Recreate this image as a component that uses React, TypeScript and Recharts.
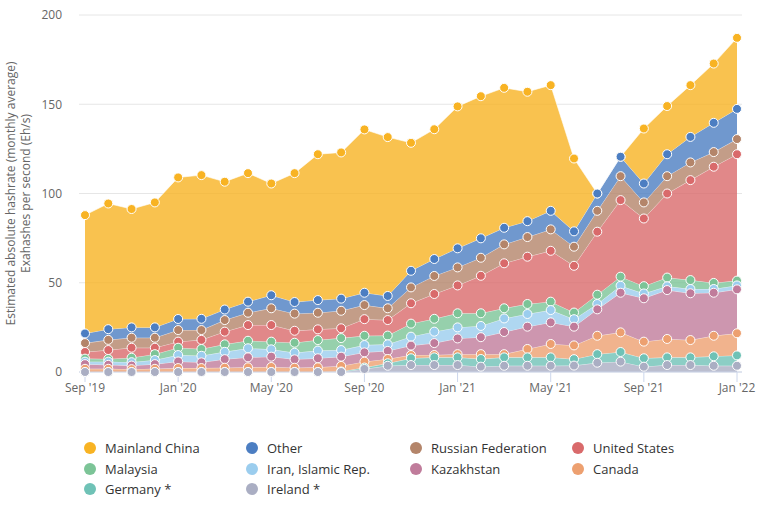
import React from 'react';
import { ComposedChart, Area, Line, XAxis, YAxis, CartesianGrid } from 'recharts';

// Monthly average hashrate by country, Eh/s
const months = [
  "Sep '19", "Oct '19", "Nov '19", "Dec '19", "Jan '20", "Feb '20", "Mar '20", "Apr '20",
  "May '20", "Jun '20", "Jul '20", "Aug '20", "Sep '20", "Oct '20", "Nov '20", "Dec '20",
  "Jan '21", "Feb '21", "Mar '21", "Apr '21", "May '21", "Jun '21", "Jul '21", "Aug '21",
  "Sep '21", "Oct '21", "Nov '21", "Dec '21", "Jan '22",
];

const china = [66.3, 70.4, 66.3, 70.0, 79.3, 80.5, 71.6, 72.0, 62.6, 72.2, 81.7, 81.9, 91.5, 89.0, 71.7, 72.7, 79.5, 79.6, 78.4, 72.5, 70.4, 40.8, 0, 0, 30.8, 27.0, 29.0, 33.2, 39.8];
const other = [5.4, 6.0, 5.8, 5.8, 6.2, 6.3, 5.9, 6.2, 7.3, 6.5, 7.1, 6.8, 6.9, 6.9, 9.3, 9.5, 10.7, 10.9, 9.3, 8.9, 10.4, 8.6, 9.7, 10.9, 10.6, 12.3, 14.3, 16.4, 16.9];
const russia = [5.0, 5.7, 5.6, 5.6, 6.5, 5.5, 6.5, 6.9, 9.4, 9.6, 9.3, 9.8, 7.9, 6.6, 8.9, 10.1, 10.1, 10.1, 10.6, 11.0, 12.0, 10.7, 11.7, 13.4, 9.0, 9.7, 9.9, 8.2, 8.5];
const unitedStates = [3.7, 5.0, 5.6, 3.6, 3.4, 5.1, 7.1, 8.8, 9.3, 6.7, 6.0, 5.5, 9.3, 8.7, 11.4, 13.9, 15.6, 21.0, 25.2, 26.5, 28.5, 26.2, 35.3, 42.9, 37.9, 47.1, 56.0, 65.1, 70.8];
const malaysia = [1.7, 1.5, 2.5, 3.3, 4.1, 3.8, 4.2, 4.2, 4.3, 5.6, 5.9, 6.7, 5.2, 4.9, 7.3, 7.2, 7.9, 7.1, 5.7, 5.6, 4.7, 3.7, 5.2, 5.1, 4.1, 4.9, 5.0, 3.4, 2.7];
const iran = [1.4, 1.8, 1.9, 2.3, 3.6, 3.7, 4.1, 5.1, 4.1, 3.7, 4.3, 3.7, 4.1, 3.7, 5.0, 6.4, 6.2, 6.3, 7.6, 7.1, 6.9, 4.2, 3.0, 3.9, 2.7, 2.1, 2.4, 2.1, 2.2];
const kazakhstan = [2.6, 2.2, 2.0, 2.6, 3.7, 3.2, 4.8, 5.6, 5.8, 4.7, 5.1, 5.2, 5.2, 4.5, 5.3, 6.7, 8.8, 9.5, 12.4, 12.5, 12.1, 10.5, 14.8, 22.2, 24.3, 27.4, 26.2, 24.1, 24.6];
const canada = [1.8, 1.8, 1.6, 1.8, 2.2, 2.2, 2.4, 2.6, 2.8, 2.4, 2.6, 3.1, 3.3, 2.4, 1.8, 1.3, 1.8, 2.7, 1.8, 4.7, 7.5, 7.7, 10.3, 11.0, 9.3, 10.3, 9.7, 11.5, 12.4];
const germany = [0, 0, 0, 0, 0, 0, 0, 0, 0, 0, 0, 0.3, 0.8, 1.4, 3.8, 4.3, 4.3, 4.3, 4.7, 4.7, 4.7, 3.6, 4.8, 5.4, 4.7, 4.3, 4.3, 5.3, 5.8];
const ireland = [0, 0, 0, 0, 0, 0, 0, 0, 0, 0, 0, 0, 1.7, 3.5, 3.9, 3.9, 3.9, 3.0, 3.5, 3.5, 3.5, 3.6, 5.2, 5.8, 3.0, 3.9, 3.9, 3.5, 3.5];

const yTicks = [0, 50, 100, 150, 200];

type Series = { key: string; name: string; color: string; values: number[] };

// Legend order; the stack is built from the end of this list upwards
const series: Series[] = [
  { key: 'china', name: 'Mainland China', color: '#F8B323', values: china },
  { key: 'other', name: 'Other', color: '#4C7EC2', values: other },
  { key: 'russia', name: 'Russian Federation', color: '#B4856A', values: russia },
  { key: 'us', name: 'United States', color: '#D96A6B', values: unitedStates },
  { key: 'malaysia', name: 'Malaysia', color: '#7CC497', values: malaysia },
  { key: 'iran', name: 'Iran, Islamic Rep.', color: '#9BCDEE', values: iran },
  { key: 'kazakhstan', name: 'Kazakhstan', color: '#C07C9B', values: kazakhstan },
  { key: 'canada', name: 'Canada', color: '#EDA070', values: canada },
  { key: 'germany', name: 'Germany *', color: '#6FC2B6', values: germany },
  { key: 'ireland', name: 'Ireland *', color: '#AAAEC3', values: ireland },
];

const stackOrder = [...series].reverse();

const data = months.map((month, i) => {
  const row: Record<string, number | string> = { month };
  let running = 0;
  for (const s of stackOrder) {
    row[s.key] = s.values[i];
    running += s.values[i];
    row[s.key + 'Top'] = Math.round(running * 100) / 100;
  }
  return row;
});

const FONT = "'Open Sans', 'Noto Sans', sans-serif";

const AxisTitle = (props: any) => {
  const vb = props.viewBox || { x: 0, y: 15, width: 79, height: 357 };
  const cy = vb.y + vb.height / 2;
  const lines = [
    { x: vb.x + 10, text: 'Estimated absolute hashrate (monthly average)' },
    { x: vb.x + 25, text: 'Exahashes per second (Eh/s)' },
  ];
  return (
    <g>
      {lines.map((l) => (
        <text
          key={l.text}
          x={l.x}
          y={cy}
          transform={`rotate(-90, ${l.x}, ${cy})`}
          textAnchor="middle"
          dominantBaseline="central"
          fill="#666666"
          fontSize={12}
          fontFamily={FONT}
        >
          {l.text}
        </text>
      ))}
    </g>
  );
};

const legendCols = [90, 252, 416, 578];
const legendRows = [448, 468.5, 489];

const HashrateLegend = () => (
  <>
    {series.map((s, i) => {
      const cx = legendCols[i % 4];
      const cy = legendRows[Math.floor(i / 4)];
      return (
        <React.Fragment key={s.key}>
          <div
            style={{
              position: 'absolute',
              left: cx - 6,
              top: cy - 6,
              width: 12,
              height: 12,
              borderRadius: '50%',
              background: s.color,
            }}
          />
          <div
            style={{
              position: 'absolute',
              left: cx + 15,
              top: cy - 9,
              height: 18,
              lineHeight: '18px',
              fontSize: 13,
              color: '#333333',
              whiteSpace: 'nowrap',
              fontFamily: FONT,
            }}
          >
            {s.name}
          </div>
        </React.Fragment>
      );
    })}
  </>
);

export default function App() {
  return (
    <div
      style={{
        position: 'fixed',
        left: 0,
        top: 0,
        width: 775,
        height: 510,
        background: '#ffffff',
        fontFamily: FONT,
      }}
    >
      <ComposedChart
        width={775}
        height={420}
        data={data}
        margin={{ top: 15, right: 33, bottom: 18, left: 0 }}
      >
        <CartesianGrid vertical={false} stroke="#e6e6e6" />
        <XAxis
          dataKey="month"
          interval={3}
          height={30}
          padding={{ left: 6, right: 5 }}
          tickSize={10}
          tickMargin={1}
          axisLine={{ stroke: '#ccd6eb' }}
          tickLine={{ stroke: '#ccd6eb' }}
          tick={{ fill: '#666666', fontSize: 12 }}
        />
        <YAxis
          domain={[0, 200]}
          ticks={yTicks}
          width={79}
          axisLine={false}
          tickLine={false}
          tickSize={0}
          tickMargin={17}
          tick={{ fill: '#666666', fontSize: 12 }}
          label={{ content: AxisTitle }}
        />
        {stackOrder.map((s) => (
          <Area
            key={s.key}
            type="linear"
            dataKey={s.key}
            stackId="hashrate"
            fill={s.color}
            fillOpacity={0.8}
            stroke="#ffffff"
            strokeOpacity={0.6}
            strokeWidth={1}
            dot={false}
            activeDot={false}
            isAnimationActive={false}
          />
        ))}
        {series.map((s) => (
          <Line
            key={s.key + 'Top'}
            type="linear"
            dataKey={s.key + 'Top'}
            stroke="none"
            dot={{ r: 4.5, fill: s.color, stroke: '#ffffff', strokeWidth: 1 }}
            activeDot={false}
            isAnimationActive={false}
            legendType="none"
          />
        ))}
      </ComposedChart>
      <HashrateLegend />
    </div>
  );
}
